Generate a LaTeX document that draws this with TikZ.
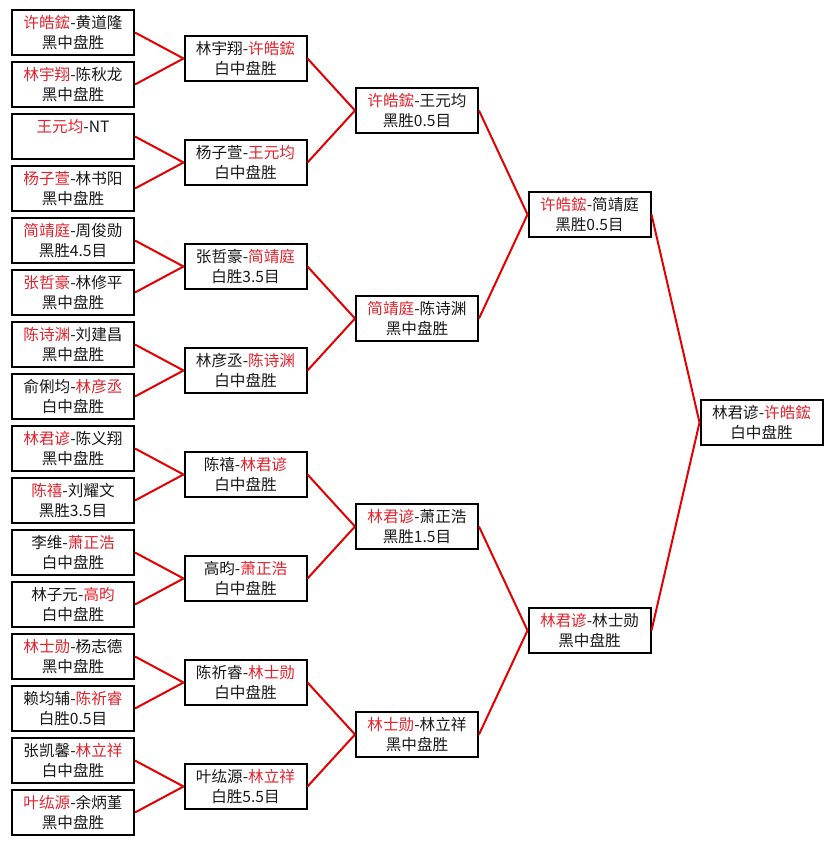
\documentclass[tikz,border=0pt]{standalone}
\usepackage{fontspec}
\newfontfamily\cjk{Noto Sans CJK SC}
\definecolor{rd}{RGB}{225,35,45}
\definecolor{ln}{RGB}{228,0,0}
\definecolor{tx}{RGB}{25,25,25}
\newcommand\rn[1]{\textcolor{rd}{#1}}
\begin{document}
\begin{tikzpicture}[x=1pt,y=-1pt,
  box/.style={draw=black,line width=2pt,fill=white,minimum width=122pt,minimum height=45pt,
    inner sep=0pt,align=center,text=tx,font=\cjk\fontsize{15.6}{19.5}\selectfont,
    execute at begin node={\rule{0pt}{17.5pt}}},
  link/.style={draw=ln,line width=2pt}]
\useasboundingbox[fill=white] (0,0) rectangle (833,845);
% round 1
\node[box] (a1)  at (73,32.5)  {\rn{许皓鋐}-黄道隆\\黑中盘胜};
\node[box] (a2)  at (73,84.5)  {\rn{林宇翔}-陈秋龙\\黑中盘胜};
\node[box] (a3)  at (73,136.5) {\rn{王元均}-NT\\\phantom{黑}};
\node[box] (a4)  at (73,188.5) {\rn{杨子萱}-林书阳\\黑中盘胜};
\node[box] (a5)  at (73,240.5) {\rn{简靖庭}-周俊勋\\黑胜4.5目};
\node[box] (a6)  at (73,292.5) {\rn{张哲豪}-林修平\\黑中盘胜};
\node[box] (a7)  at (73,344.5) {\rn{陈诗渊}-刘建昌\\黑中盘胜};
\node[box] (a8)  at (73,396.5) {俞俐均-\rn{林彦丞}\\白中盘胜};
\node[box] (a9)  at (73,448.5) {\rn{林君谚}-陈义翔\\黑中盘胜};
\node[box] (a10) at (73,500.5) {\rn{陈禧}-刘耀文\\黑胜3.5目};
\node[box] (a11) at (73,552.5) {李维-\rn{萧正浩}\\白中盘胜};
\node[box] (a12) at (73,604.5) {林子元-\rn{高昀}\\白中盘胜};
\node[box] (a13) at (73,656.5) {\rn{林士勋}-杨志德\\黑中盘胜};
\node[box] (a14) at (73,708.5) {赖均辅-\rn{陈祈睿}\\白胜0.5目};
\node[box] (a15) at (73,760.5) {张凯馨-\rn{林立祥}\\白中盘胜};
\node[box] (a16) at (73,812.5) {\rn{叶纮源}-余炳堇\\黑中盘胜};
% round 2
\node[box] (b1) at (245.5,58.5)  {林宇翔-\rn{许皓鋐}\\白中盘胜};
\node[box] (b2) at (245.5,162.5) {杨子萱-\rn{王元均}\\白中盘胜};
\node[box] (b3) at (245.5,266.5) {张哲豪-\rn{简靖庭}\\白胜3.5目};
\node[box] (b4) at (245.5,370.5) {林彦丞-\rn{陈诗渊}\\白中盘胜};
\node[box] (b5) at (245.5,474.5) {陈禧-\rn{林君谚}\\白中盘胜};
\node[box] (b6) at (245.5,578.5) {高昀-\rn{萧正浩}\\白中盘胜};
\node[box] (b7) at (245.5,682.5) {陈祈睿-\rn{林士勋}\\白中盘胜};
\node[box] (b8) at (245.5,786.5) {叶纮源-\rn{林立祥}\\白胜5.5目};
% round 3
\node[box] (c1) at (417,110.5) {\rn{许皓鋐}-王元均\\黑胜0.5目};
\node[box] (c2) at (417,318.5) {\rn{简靖庭}-陈诗渊\\黑中盘胜};
\node[box] (c3) at (417,526.5) {\rn{林君谚}-萧正浩\\黑胜1.5目};
\node[box] (c4) at (417,734.5) {\rn{林士勋}-林立祥\\黑中盘胜};
% round 4
\node[box] (d1) at (589.5,214.5) {\rn{许皓鋐}-简靖庭\\黑胜0.5目};
\node[box] (d2) at (589.5,630.5) {\rn{林君谚}-林士勋\\黑中盘胜};
% final
\node[box] (e1) at (761.5,422.5) {林君谚-\rn{许皓鋐}\\白中盘胜};
% connectors
\draw[link] (a1.east) -- (b1.west);  \draw[link] (a2.east) -- (b1.west);
\draw[link] (a3.east) -- (b2.west);  \draw[link] (a4.east) -- (b2.west);
\draw[link] (a5.east) -- (b3.west);  \draw[link] (a6.east) -- (b3.west);
\draw[link] (a7.east) -- (b4.west);  \draw[link] (a8.east) -- (b4.west);
\draw[link] (a9.east) -- (b5.west);  \draw[link] (a10.east) -- (b5.west);
\draw[link] (a11.east) -- (b6.west); \draw[link] (a12.east) -- (b6.west);
\draw[link] (a13.east) -- (b7.west); \draw[link] (a14.east) -- (b7.west);
\draw[link] (a15.east) -- (b8.west); \draw[link] (a16.east) -- (b8.west);
\draw[link] (b1.east) -- (c1.west);  \draw[link] (b2.east) -- (c1.west);
\draw[link] (b3.east) -- (c2.west);  \draw[link] (b4.east) -- (c2.west);
\draw[link] (b5.east) -- (c3.west);  \draw[link] (b6.east) -- (c3.west);
\draw[link] (b7.east) -- (c4.west);  \draw[link] (b8.east) -- (c4.west);
\draw[link] (c1.east) -- (d1.west);  \draw[link] (c2.east) -- (d1.west);
\draw[link] (c3.east) -- (d2.west);  \draw[link] (c4.east) -- (d2.west);
\draw[link] (d1.east) -- (e1.west);  \draw[link] (d2.east) -- (e1.west);
\end{tikzpicture}
\end{document}
